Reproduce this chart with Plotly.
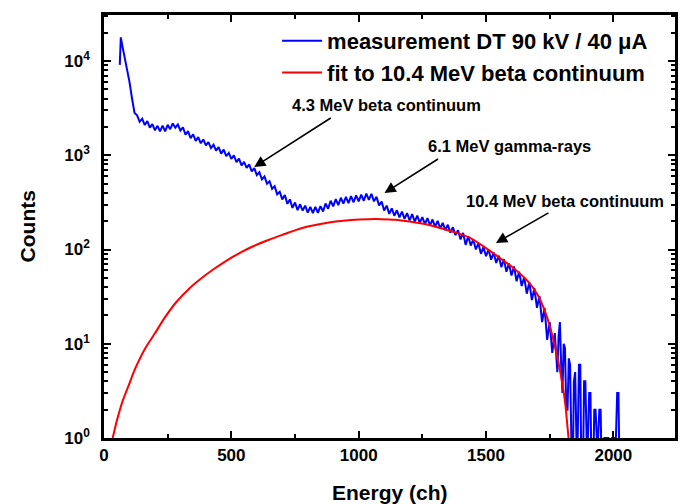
import plotly.graph_objects as go

# ---------------- data ----------------
blue_ch = [62, 66] + list(range(70, 1780, 10)) + list(range(1780, 2035, 5))
blue_counts = [
    9100, 17800,
    15500, 11500, 8500, 6000, 4000, 2800, 2650, 2260, 2440, 2090,
    2300, 1960, 2140, 1840, 2050, 1790, 2060, 1790, 2100, 1890,
    2170, 1960, 2120, 1830, 1980, 1650, 1800, 1520, 1670, 1420,
    1560, 1340, 1470, 1270, 1380, 1190, 1290, 1120, 1220, 1040,
    1150, 980, 1060, 915, 1000, 845, 920, 780, 850, 735,
    800, 675, 730, 615, 660, 555, 595, 500, 530, 440,
    470, 385, 410, 340, 378, 305, 340, 276, 315, 262,
    302, 259, 292, 246, 283, 244, 283, 245, 289, 253,
    308, 271, 329, 287, 343, 296, 354, 306, 362, 311,
    369, 317, 376, 324, 383, 329, 391, 336, 389, 324,
    362, 294, 322, 259, 292, 239, 273, 228, 261, 219,
    252, 211, 243, 204, 237, 198, 229, 192, 221, 186,
    215, 180, 208, 174, 201, 167, 192, 160, 183, 151,
    172, 142, 160, 128, 150, 112, 138, 110, 128, 100,
    117, 90, 106, 85, 100, 78, 93, 72, 86, 65,
    79, 58, 71, 53, 66, 46, 58, 41, 51, 34,
    45, 29, 39, 24, 32, 17, 24, 11, 17, 8,
    13,
    # tail, every 5 channels
    5, 12, 17, 6, 3, 10, 9, 2, 2, 7,
    6, 1, 0.3, 4, 5, 1, 1, 6, 6, 0.3,
    0.3, 4, 4, 1, 1, 3, 3, 0.3, 0.3, 2,
    2, 1, 1, 2, 2, 0.3, 0.3, 1, 1, 1,
    1, 0.3, 0.3, 1, 1, 1, 1, 3, 3, 0.3,
    0.3,
]

red_ch = [34, 50, 75, 100, 115, 140, 166, 200, 232, 280, 336, 380, 430, 480,
          530, 590, 648, 700, 778, 850, 909, 970, 1039, 1090, 1143, 1200, 1273,
          1330, 1378, 1430, 1481, 1547, 1600, 1664, 1703, 1729, 1750, 1768,
          1785, 1801, 1812, 1820, 1824]
red_counts = [1, 1.51, 2.55, 3.8, 4.89, 6.9, 9.36, 12.9, 17.8, 26.9, 38.9, 49, 61.7, 75.9,
              91.2, 109.6, 127, 143, 169, 186, 198, 206, 210, 210, 207, 198, 183,
              166, 152, 136, 112, 84, 66, 46, 33, 23, 15.5, 10,
              6.2, 3.6, 2.2, 1.3, 1]

series_names = ["measurement DT 90 kV / 40 \u03bcA", "fit to 10.4 MeV beta continuum"]
y_tick_vals = [1, 10, 100, 1000, 10000]
y_tick_text = ["10<sup>0</sup>", "10<sup>1</sup>", "10<sup>2</sup>", "10<sup>3</sup>", "10<sup>4</sup>"]
x_tick_vals = [0, 500, 1000, 1500, 2000]

FONT = "Arial, Liberation Sans, sans-serif"

fig = go.Figure()
fig.add_trace(go.Scatter(x=blue_ch, y=blue_counts, mode="lines", name=series_names[0],
                         line=dict(color="#0000FF", width=2)))
fig.add_trace(go.Scatter(x=red_ch, y=red_counts, mode="lines", name=series_names[1],
                         line=dict(color="#FF0000", width=2, shape="spline", smoothing=0.5)))

L, R, T, B = 104, 11, 15, 66
W, H = 689, 504
PW, PH = W - L - R, H - T - B


def px(xp):
    return (xp - L) / PW


def py(yp):
    return (H - B - yp) / PH


axis_common = dict(showline=True, linewidth=2.5, linecolor="black", mirror="allticks",
                   ticks="inside", tickwidth=2, ticklen=7, tickcolor="black",
                   showgrid=False, zeroline=False,
                   tickfont=dict(family=FONT, size=17, color="black", weight="bold"))

fig.update_xaxes(range=[0, 2242], tickvals=x_tick_vals,
                 minor=dict(ticks="inside", dtick=250, ticklen=4, tickwidth=2, tickcolor="black"),
                 **axis_common)
fig.update_yaxes(type="log", range=[0, 4.488], tickvals=y_tick_vals, ticktext=y_tick_text,
                 ticklabelstandoff=8,
                 minor=dict(ticks="inside", dtick="D1", ticklen=4, tickwidth=2, tickcolor="black"),
                 **axis_common)

annots = []
# axis titles
annots.append(dict(text="Energy (ch)", x=0.5, y=py(492), xref="paper", yref="paper",
                   xanchor="center", yanchor="middle",
                   showarrow=False, font=dict(family=FONT, size=21, color="black", weight="bold")))
annots.append(dict(text="Counts", x=px(27), y=py(226), xref="paper", yref="paper", textangle=-90,
                   xanchor="center", yanchor="middle",
                   showarrow=False, font=dict(family=FONT, size=21, color="black", weight="bold")))
# labels
labels = [("4.3 MeV beta continuum", 388, 105),
          ("6.1 MeV gamma-rays", 512, 146),
          ("10.4 MeV beta continuum", 567, 201)]
for t, xx, yy in labels:
    annots.append(dict(text=t, x=px(xx), y=py(yy), xref="paper", yref="paper", showarrow=False,
                       xanchor="center", yanchor="middle",
                       font=dict(family=FONT, size=16.5, color="black", weight="bold")))
arrows = [((255, 167), (333, 117)), ((386, 193), (441, 158)), ((498, 243), (552, 212))]
for (hx, hy), (tx, ty) in arrows:
    annots.append(dict(text="", x=px(hx), y=py(hy), xref="paper", yref="paper", showarrow=True,
                       ax=tx - hx, ay=ty - hy, arrowhead=2, arrowsize=1.4, arrowwidth=1.6,
                       arrowcolor="black", standoff=0))

fig.update_layout(
    width=W, height=H, margin=dict(l=L, r=R, t=T, b=B),
    paper_bgcolor="white", plot_bgcolor="white",
    font=dict(family=FONT, color="black"),
    showlegend=True,
    legend=dict(x=px(278), y=py(20), xanchor="left", yanchor="top", bgcolor="rgba(0,0,0,0)",
                font=dict(family=FONT, size=22, color="black", weight="bold"),
                tracegroupgap=0, itemwidth=40),
    annotations=annots,
)

fig.write_html("out.html", config={"displayModeBar": False},
               post_script="document.body.style.margin='0';")
